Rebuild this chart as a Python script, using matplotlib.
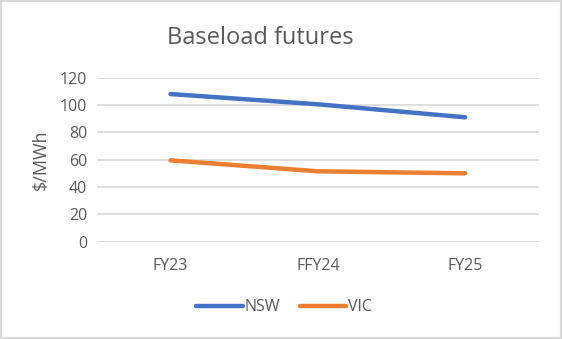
import matplotlib.pyplot as plt
from matplotlib.patches import Rectangle

categories = ['FY23', 'FFY24', 'FY25']
nsw = [108, 100.5, 91]
vic = [59.5, 51.5, 50]
yticks = [0, 20, 40, 60, 80, 100, 120]

text_color = '#595959'
plt.rcParams['font.family'] = ['Open Sans', 'DejaVu Sans']

fig = plt.figure(figsize=(5.63, 3.39), dpi=100)
ax = fig.add_axes([0.172, 0.287, 0.785, 0.484])

x = range(len(categories))
ax.plot(x, nsw, color='#4472C4', lw=3.2, solid_capstyle='round', label='NSW')
ax.plot(x, vic, color='#ED7D31', lw=3.2, solid_capstyle='round', label='VIC')

ax.set_xlim(-0.5, len(categories) - 0.5)
ax.set_ylim(0, 120)
ax.set_yticks(yticks)
ax.set_xticks(list(x))
ax.set_xticklabels(categories)
ax.grid(axis='y', color='#D9D9D9', lw=1.2)
ax.set_axisbelow(True)
for s in ax.spines.values():
    s.set_visible(False)
ax.tick_params(length=0, colors=text_color, labelsize=11.5)
ax.tick_params(axis='y', pad=7)
ax.tick_params(axis='x', pad=12)
ax.set_ylabel('$/MWh', color=text_color, fontsize=13, labelpad=7)

fig.text(0.463, 0.888, 'Baseload futures', ha='center', va='center',
         fontsize=17, color=text_color)

leg = fig.legend(loc='center', bbox_to_anchor=(0.505, 0.094), ncol=2, frameon=False,
                 fontsize=11.5, handlelength=2.9, handletextpad=0.15, columnspacing=1.2,
                 labelcolor=text_color)

fig.patches.append(Rectangle((0.002, 0.003), 0.995, 0.993, transform=fig.transFigure,
                             fill=False, edgecolor='#D9D9D9', lw=1.5))

fig.savefig('out.png', dpi=100)
